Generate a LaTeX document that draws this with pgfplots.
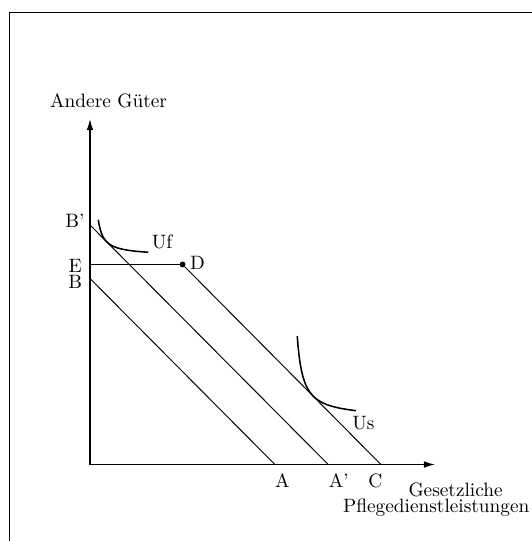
\documentclass[border=0pt]{standalone}
\usepackage{pgfplots}
\pgfplotsset{compat=1.18}
\usetikzlibrary{arrows.meta}
\begin{document}
\begin{tikzpicture}
\begin{axis}[
  scale only axis, width=275.2pt, height=279.9pt,
  xmin=0, xmax=532, ymin=0, ymax=541, y dir=reverse,
  hide axis, clip=true,
]
\path (axis cs:0,0) rectangle (axis cs:532,541);
% frame
\addplot[black, line width=0.5pt] coordinates {(600,12.4) (9.5,12.4) (9.5,600)};
% axes
\addplot[black, line width=0.65pt, -{Latex[length=5.7pt,width=3.4pt]}] coordinates {(90,464.5) (435,464.5)};
\addplot[black, line width=0.65pt, -{Latex[length=5.7pt,width=3.4pt]}] coordinates {(90,464.5) (90,119)};
% budget lines
\addplot[black, line width=0.5pt] coordinates {(90,278.5) (275,464.5)};
\addplot[black, line width=0.5pt] coordinates {(90,225) (328.3,464.5)};
\addplot[black, line width=0.5pt] coordinates {(182.6,264.5) (381,464.5)};
\addplot[black, line width=0.6pt] coordinates {(90,264.5) (182.6,264.5)};
\addplot[black, only marks, mark=*, mark size=1.3pt] coordinates {(182.6,264.5)};
% indifference curves
\addplot[black, line width=0.8pt] coordinates {
(98.3,219.7) (99,223.9) (100,228.4) (101,231.85) (102,234.5) (103,236.6)
(104,238.35) (105,239.8) (107,242.1) (110,244.5) (113,246.2) (117,247.75)
(122,249.1) (128,250.25) (135,251.16) (142,251.8) (148.3,252.25)};
\addplot[black, line width=0.8pt] coordinates {
(297.3,336.0) (298,344.8) (299,354.6) (300,362.1) (301.5,370.5) (303,376.7)
(305,382.8) (307,387.4) (310,392.3) (313.3,396.2) (317,399.4) (321,401.9)
(326,404.3) (332,406.3) (340,408.25) (348,409.6) (356,410.7)};
% labels
\node[inner sep=0pt] at (axis cs:108.6,101) {Andere Güter};
\node[inner sep=0pt] at (axis cs:75,221) {B'};
\node[inner sep=0pt] at (axis cs:75.3,265.5) {E};
\node[inner sep=0pt] at (axis cs:75.3,281.5) {B};
\node[inner sep=0pt] at (axis cs:162,241.5) {Uf};
\node[inner sep=0pt] at (axis cs:197.5,263) {D};
\node[inner sep=0pt] at (axis cs:363.5,423) {Us};
\node[inner sep=0pt] at (axis cs:282.3,481) {A};
\node[inner sep=0pt] at (axis cs:338.8,481) {A'};
\node[inner sep=0pt] at (axis cs:375.3,481) {C};
\node[inner sep=0pt] at (axis cs:455.7,489.5) {Gesetzliche};
\node[inner sep=0pt] at (axis cs:436.4,507.8) {Pflegedienstleistungen};
\end{axis}
\end{tikzpicture}
\end{document}
